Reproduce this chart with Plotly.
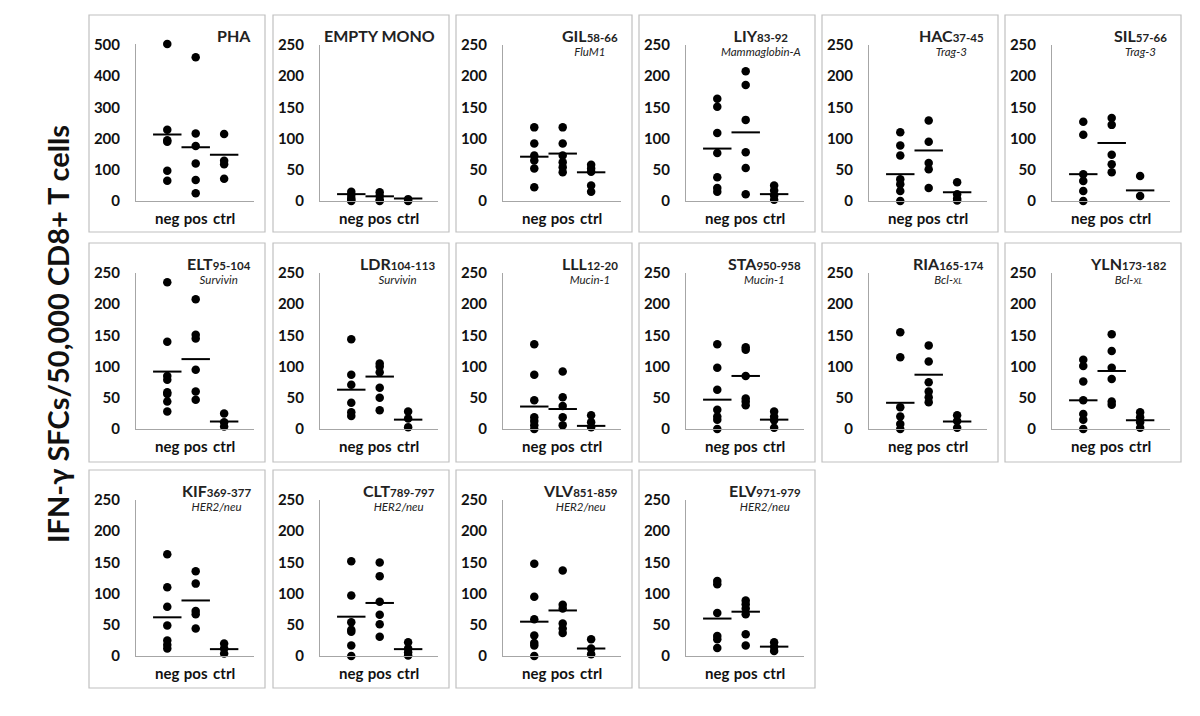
import plotly.graph_objects as go

# ---------------- data ----------------
groups = ["neg", "pos", "ctrl"]

peptides = ["PHA", "EMPTY MONO", "GIL", "LIY", "HAC", "SIL",
            "ELT", "LDR", "LLL", "STA", "RIA", "YLN",
            "KIF", "CLT", "VLV", "ELV"]
positions = ["", "", "58-66", "83-92", "37-45", "57-66",
             "95-104", "104-113", "12-20", "950-958", "165-174", "173-182",
             "369-377", "789-797", "851-859", "971-979"]
antigens = ["", "", "FluM1", "Mammaglobin-A", "Trag-3", "Trag-3",
            "Survivin", "Survivin", "Mucin-1", "Mucin-1", "Bcl-XL", "Bcl-XL",
            "HER2/neu", "HER2/neu", "HER2/neu", "HER2/neu"]

neg_vals = [
    [503, 228, 195, 190, 97, 65],
    [15, 10, 5, 2, 0],
    [118, 92, 73, 65, 52, 22],
    [164, 151, 109, 77, 38, 21, 15],
    [110, 89, 73, 35, 27, 16, 0],
    [127, 106, 43, 32, 16, 0],
    [235, 140, 85, 79, 59, 56, 44, 28],
    [144, 87, 71, 42, 27, 21],
    [136, 87, 46, 19, 13, 6, 0],
    [136, 98, 63, 31, 20, 15, 0],
    [155, 115, 35, 20, 8, 0],
    [111, 101, 76, 46, 24, 15, 0],
    [163, 110, 79, 49, 25, 18, 12],
    [152, 97, 54, 42, 39, 17, 0],
    [148, 95, 59, 33, 21, 17, 0],
    [120, 115, 69, 32, 27, 13],
]
pos_vals = [
    [461, 216, 176, 120, 67, 25],
    [14, 8, 2, 0],
    [118, 92, 73, 62, 54, 46],
    [208, 186, 130, 78, 53, 11],
    [129, 95, 61, 51, 21],
    [133, 122, 74, 59, 46],
    [208, 151, 145, 95, 60, 47],
    [105, 100, 91, 66, 50, 30],
    [92, 51, 37, 19, 6],
    [131, 127, 85, 49, 44, 38],
    [134, 108, 75, 60, 51, 43],
    [152, 125, 98, 80, 44, 39],
    [136, 116, 72, 67, 44],
    [150, 128, 87, 66, 51, 31],
    [137, 82, 76, 52, 44, 37],
    [89, 83, 76, 67, 35, 17],
]
ctrl_vals = [
    [215, 129, 118, 71],
    [3, 0],
    [58, 52, 47, 25, 15],
    [25, 17, 9, 2],
    [30, 11, 4, 1],
    [40, 8],
    [25, 11, 4],
    [28, 17, 3],
    [22, 11, 3],
    [28, 20, 14, 2],
    [22, 13, 2],
    [27, 19, 11, 2],
    [20, 12, 4],
    [22, 12, 6, 1],
    [27, 12, 3],
    [22, 15, 8],
]
neg_mean = [213, 11, 71, 84, 43, 43, 92, 63, 36, 47, 42, 46, 62, 63, 55, 60]
pos_mean = [172, 7.5, 76, 110, 81, 93, 112, 84, 32, 85, 87, 93, 89, 85, 73, 71]
ctrl_mean = [148, 4, 46, 11, 14, 17, 12, 15, 5, 15, 12, 14, 11, 11, 12, 15]

ticks_pha = [0, 100, 200, 300, 400, 500]
ticks_std = [0, 50, 100, 150, 200, 250]

y_title = "IFN-γ SFCs/50,000 CD8+ T cells"

# ---------------- layout geometry ----------------
W, H = 1200, 716
col_lefts = [89, 273, 456, 639, 822, 1005]
panel_w = 176
row_tops = [15, 243, 470]
row_heights = [217, 219, 218]

FONT = "Lato"
AXCOL = "#a6a6a6"
BORDER = "#c0c0c0"

fig = go.Figure()
shapes = []
annotations = []


def px_x(x):
    return x / W


def px_y(y):
    return 1 - y / H


for k, name in enumerate(peptides):
    row, col = divmod(k, 6)
    L = col_lefts[col]
    T = row_tops[row]
    PH = row_heights[row]
    ax = "" if k == 0 else str(k + 1)
    xa, ya = "x" + ax, "y" + ax

    for gi, vals in enumerate([neg_vals[k], pos_vals[k], ctrl_vals[k]]):
        fig.add_trace(go.Scatter(
            x=[gi] * len(vals), y=vals, mode="markers",
            marker=dict(size=8.5, color="black"),
            cliponaxis=False, showlegend=False, hoverinfo="y",
            xaxis=xa, yaxis=ya))
    mx, my = [], []
    for gi, m in enumerate([neg_mean[k], pos_mean[k], ctrl_mean[k]]):
        mx += [gi - 0.5, gi + 0.5, None]
        my += [m, m, None]
    fig.add_trace(go.Scatter(
        x=mx, y=my, mode="lines", line=dict(color="black", width=2),
        cliponaxis=False, showlegend=False, hoverinfo="skip",
        xaxis=xa, yaxis=ya))

    ticks = ticks_pha if k == 0 else ticks_std
    top_val = ticks[-1]
    data_max = max(neg_vals[k] + pos_vals[k] + ctrl_vals[k])
    rng_top = max(top_val, data_max + 1)
    # keep the pixel scale so that tick "top_val" sits at T+30
    top_px = (T + 186) - (rng_top / top_val) * 156
    xdom = [px_x(L + 47), px_x(L + 165)]
    ydom = [px_y(T + 186), px_y(top_px)]
    fig.update_layout(**{
        ("xaxis" + ax): dict(
            domain=xdom, range=[-1.1, 3.05], anchor=ya,
            tickvals=[0, 1, 2], ticktext=groups, showgrid=False,
            zeroline=False, showline=True, linecolor=AXCOL, linewidth=1,
            ticks="", ticklabelstandoff=4, automargin=False,
            tickfont=dict(family=FONT, size=15, color="#111", weight="bold"),
            fixedrange=True),
        ("yaxis" + ax): dict(
            domain=ydom, range=[0, rng_top], anchor=xa,
            tickvals=ticks, showgrid=False, zeroline=False, showline=True,
            linecolor=AXCOL, linewidth=1, ticks="", ticklabelstandoff=12,
            automargin=False,
            tickfont=dict(family=FONT, size=15, color="#111", weight="bold"),
            fixedrange=True),
    })

    shapes.append(dict(type="rect", xref="paper", yref="paper",
                       x0=px_x(L), x1=px_x(L + panel_w),
                       y0=px_y(T + PH), y1=px_y(T),
                       line=dict(color=BORDER, width=1.2),
                       fillcolor="rgba(0,0,0,0)", layer="below"))

    sub_pos = positions[k]
    title = "<b><span style='font-size:16px'>%s</span></b>" % name
    if sub_pos:
        title += "<b><span style='font-size:11.5px'>%s</span></b>" % sub_pos
    ant = antigens[k]
    if ant:
        ant_txt = ant.replace("XL", "<span style='font-size:8.5px'>XL</span>")
        text = title + "<br><i><span style='font-size:11.5px'>%s</span></i>" % ant_txt
    else:
        text = title
    annotations.append(dict(
        text=text, xref="paper", yref="paper",
        x=px_x(L + 164), y=px_y(T + 9), xanchor="right", yanchor="top",
        align="center", showarrow=False,
        font=dict(family=FONT, size=10.5, color="#222")))

annotations.append(dict(
    text="<b>%s</b>" % y_title, xref="paper", yref="paper",
    x=px_x(58), y=px_y(334), xanchor="center", yanchor="middle",
    textangle=-90, showarrow=False,
    font=dict(family=FONT, size=29, color="#111")))

fig.update_layout(
    width=W, height=H, margin=dict(l=0, r=0, t=0, b=0),
    paper_bgcolor="white", plot_bgcolor="white",
    shapes=shapes, annotations=annotations, showlegend=False)

fig.write_html("out.html", config={"displayModeBar": False},
               post_script="document.body.style.margin='0px';"
                           "document.body.style.overflow='hidden';")
